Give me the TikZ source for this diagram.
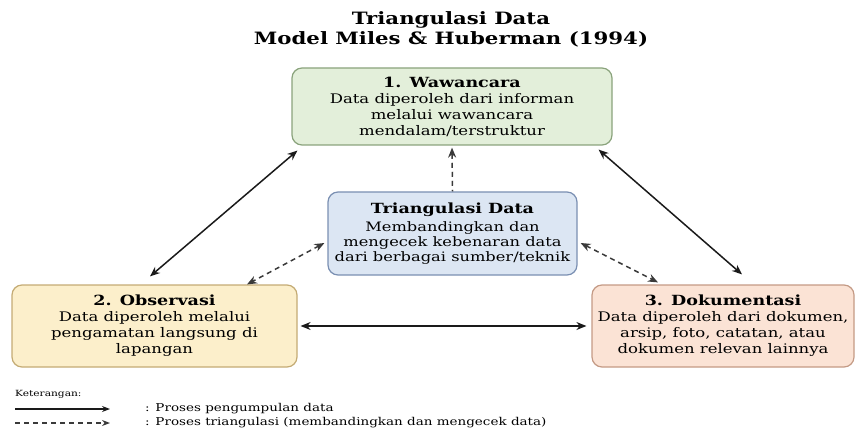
\documentclass[tikz,border=0pt]{standalone}
\usepackage{fontspec}
\setmainfont{DejaVu Serif}[FakeStretch=1.25]
\usetikzlibrary{arrows.meta}

\definecolor{greenfill}{HTML}{E3EFDA}
\definecolor{greenline}{HTML}{8AA37C}
\definecolor{bluefill}{HTML}{DCE6F3}
\definecolor{blueline}{HTML}{7A8FB2}
\definecolor{yellowfill}{HTML}{FCEFCB}
\definecolor{yellowline}{HTML}{C4AB74}
\definecolor{peachfill}{HTML}{FBE3D5}
\definecolor{peachline}{HTML}{C49A85}
\definecolor{arrowcol}{HTML}{1A1A1A}
\definecolor{dashcol}{HTML}{3A3A3A}

\newcommand{\boxhead}[1]{{\bfseries\fontsize{14}{16}\selectfont #1}}

\tikzset{
  box/.style={draw, line width=1.2pt, rounded corners=10pt, align=center,
    font=\fontsize{13.2}{16}\selectfont, inner sep=0pt},
  collect/.style={draw=arrowcol, line width=1.5pt, {Stealth[length=10pt,width=8pt]}-{Stealth[length=10pt,width=8pt]}},
  triang/.style={draw=dashcol, line width=1.5pt, dash pattern=on 5pt off 4pt, {Stealth[length=10pt,width=8pt]}-{Stealth[length=10pt,width=8pt]}},
  legendtext/.style={anchor=west, font=\fontsize{10.8}{12}\selectfont, inner sep=0pt},
}

\begin{document}
\begin{tikzpicture}[x=1pt,y=-1pt]
\useasboundingbox (0,0) rectangle (858,430);

% title
\node[font=\bfseries\fontsize{17}{19.5}\selectfont, align=center] (title) at (451,29.5)
  {Triangulasi Data\\Model Miles \& Huberman (1994)};

% the four boxes
\node[box, fill=greenfill, draw=greenline, minimum width=320pt, minimum height=77pt] (w) at (452,106.5)
  {\boxhead{1. Wawancara}\\Data diperoleh dari informan\\melalui wawancara\\mendalam/terstruktur};
\node[box, fill=bluefill, draw=blueline, minimum width=249pt, minimum height=83pt,
      font=\fontsize{13}{15}\selectfont] (b) at (452.5,233.5)
  {\boxhead{Triangulasi Data}\\[3pt]Membandingkan dan\\mengecek kebenaran data\\dari berbagai sumber/teknik};
\node[box, fill=yellowfill, draw=yellowline, minimum width=285pt, minimum height=82pt] (o) at (154.5,326)
  {\boxhead{2. Observasi}\\Data diperoleh melalui\\pengamatan langsung di\\lapangan};
\node[box, fill=peachfill, draw=peachline, minimum width=262pt, minimum height=82pt] (d) at (723,326)
  {\boxhead{3. Dokumentasi}\\Data diperoleh dari dokumen,\\arsip, foto, catatan, atau\\dokumen relevan lainnya};

% data collection links
\draw[collect] ([xshift=6pt,yshift=-5pt]w.south west) -- ([xshift=-4.5pt,yshift=8pt]o.north);
\draw[collect] ([xshift=-14pt,yshift=-4pt]w.south east) -- ([xshift=19pt,yshift=10pt]d.north);
\draw[collect] ([xshift=3pt]o.east) -- ([xshift=-5pt]d.west);

% triangulation links
\draw[triang, {Stealth[length=10pt,width=8pt]}-] ([yshift=-2pt]w.south) -- (b.north);
\draw[triang] ([xshift=-3pt,yshift=-9.5pt]b.west) -- ([xshift=92.5pt,yshift=0pt]o.north);
\draw[triang] ([xshift=3pt,yshift=-9.5pt]b.east) -- ([xshift=-65pt,yshift=2pt]d.north);

% legend
\node[legendtext, font=\fontsize{8.5}{10}\selectfont] (ket) at (15,394) {Keterangan:};
\coordinate (l1a) at (15,409);
\coordinate (l1b) at (110,409);
\coordinate (l2a) at (15,423);
\coordinate (l2b) at (110,423);
\draw[collect, line width=1.2pt, -{Stealth[length=8pt,width=6pt]}] (l1a) -- (l1b);
\draw[triang, line width=1.2pt, -{Stealth[length=8pt,width=6pt]}] (l2a) -- (l2b);
\node[legendtext] (lg1) at (145,409) {: Proses pengumpulan data};
\node[legendtext] (lg2) at (145,423) {: Proses triangulasi (membandingkan dan mengecek data)};
\end{tikzpicture}
\end{document}
